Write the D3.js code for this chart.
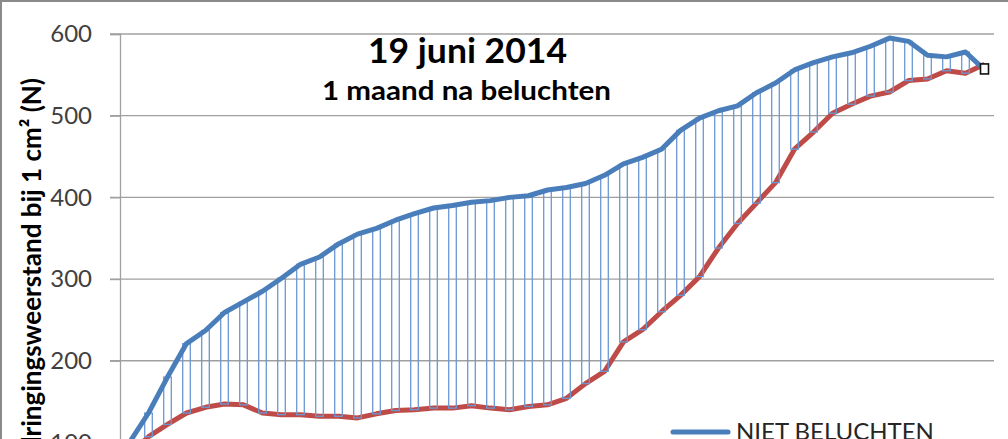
<!DOCTYPE html>
<html>
<head>
<meta charset="utf-8">
<script src="https://cdn.jsdelivr.net/npm/d3@7"></script>
<style>
    body { margin: 0; background: #fff; }
    svg { display: block; font-family: Lato, 'Open Sans', sans-serif; }
</style>
</head>
<body>
<svg id="chart" width="1008" height="439"></svg>
<script>
// meetpunten (46 stuks), x-as labels vallen buiten beeld
const depths = [1, 2, 3, 4, 5, 6, 7, 8, 9, 10, 11, 12, 13, 14, 15, 16, 17, 18, 19, 20, 21, 22, 23,
    24, 25, 26, 27, 28, 29, 30, 31, 32, 33, 34, 35, 36, 37, 38, 39, 40, 41, 42, 43, 44, 45, 46]

const nietBeluchten = [100, 136, 180, 221, 237, 259, 272, 285, 301, 318, 327, 343, 355, 362, 372, 380,
    387, 390, 394, 396, 400, 402, 409, 412, 417, 427, 441, 449, 459, 482, 497, 506, 512, 528, 540, 556,
    565, 572, 577, 585, 595, 591, 574, 572, 578, 556]

const beluchten = [85, 107, 122, 136, 143, 147, 146, 136, 134, 134, 132, 132, 130, 135, 139, 140,
    142, 142, 145, 142, 140, 144, 146, 154, 172, 187, 223, 238, 260, 280, 303, 338, 368, 393, 418, 459,
    480, 503, 514, 524, 529, 543, 545, 555, 552, 563]

const yTicks = [0, 100, 200, 300, 400, 500, 600]

const colors = {
    blue: '#4A7EBB',
    red: '#BE4B48',
    bar: '#6C98D2',
    grid: '#A0A0A0'
}

const svg = d3.select('#chart')

const x = d3.scaleBand()
    .domain(depths)
    .range([120, 994])
    .padding(0)

const y = d3.scaleLinear()
    .domain([0, 600])
    .range([524.1, 34])

const cx = (d) => x(d) + x.bandwidth() / 2

// buitenrand van de grafiek
svg.append('rect')
    .attr('x', 1).attr('y', 1)
    .attr('width', 1200).attr('height', 700)
    .attr('fill', 'none')
    .attr('stroke', '#8A8A8A')
    .attr('stroke-width', 2)

// rasterlijnen
svg.append('g')
    .selectAll('line')
    .data(yTicks)
    .enter().append('line')
    .attr('x1', 110).attr('x2', 994)
    .attr('y1', (d) => y(d)).attr('y2', (d) => y(d))
    .attr('stroke', colors.grid)
    .attr('stroke-width', 1.3)

// y-as
const yAxis = svg.append('g')
    .attr('transform', 'translate(120,0)')
    .call(d3.axisLeft(y).tickValues(yTicks).tickSize(10).tickPadding(18))

yAxis.select('.domain').attr('stroke', colors.grid).attr('stroke-width', 1.3)
yAxis.selectAll('.tick line').attr('stroke', colors.grid).attr('stroke-width', 1.3)
yAxis.selectAll('.tick text')
    .attr('fill', '#404040')
    .attr('font-family', 'Lato, sans-serif')
    .attr('font-size', 24)

svg.append('text')
    .attr('transform', 'translate(41,78) rotate(-90)')
    .attr('text-anchor', 'end')
    .attr('font-weight', 'bold')
    .attr('font-size', 26)
    .attr('fill', '#000')
    .text('Indringingsweerstand bij 1 cm² (N)')

const line = d3.line()
    .x((d, i) => cx(depths[i]))
    .y((d) => y(d))

svg.append('path')
    .datum(beluchten)
    .attr('d', line)
    .attr('fill', 'none')
    .attr('stroke', colors.red)
    .attr('stroke-width', 5)
    .attr('stroke-linejoin', 'round')

// up/down bars tussen beide reeksen
svg.append('g')
    .selectAll('rect')
    .data(depths)
    .enter().append('rect')
    .attr('x', (d) => cx(d) - 3.8)
    .attr('width', 7.6)
    .attr('y', (d, i) => y(Math.max(nietBeluchten[i], beluchten[i])))
    .attr('height', (d, i) => Math.abs(y(nietBeluchten[i]) - y(beluchten[i])))
    .attr('fill', 'none')
    .attr('stroke', colors.bar)
    .attr('stroke-width', 1.3)

svg.append('path')
    .datum(nietBeluchten)
    .attr('d', line)
    .attr('fill', 'none')
    .attr('stroke', colors.blue)
    .attr('stroke-width', 5)
    .attr('stroke-linejoin', 'round')

// geselecteerd punt
const last = depths.length - 1
svg.append('rect')
    .attr('x', cx(depths[last]) - 4)
    .attr('y', y(nietBeluchten[last]) - 6)
    .attr('width', 8).attr('height', 10)
    .attr('fill', '#fff')
    .attr('stroke', '#111')
    .attr('stroke-width', 1.6)

// titels
svg.append('text')
    .attr('x', 467.5).attr('y', 63)
    .attr('text-anchor', 'middle')
    .attr('font-weight', 'bold')
    .attr('font-size', 35)
    .attr('textLength', 199)
    .attr('lengthAdjust', 'spacingAndGlyphs')
    .text('19 juni 2014')

svg.append('text')
    .attr('x', 466.5).attr('y', 100)
    .attr('text-anchor', 'middle')
    .attr('font-weight', 'bold')
    .attr('font-size', 27)
    .attr('textLength', 289)
    .attr('lengthAdjust', 'spacingAndGlyphs')
    .text('1 maand na beluchten')

// legenda
svg.append('line')
    .attr('x1', 673).attr('x2', 728)
    .attr('y1', 432).attr('y2', 432)
    .attr('stroke', colors.blue)
    .attr('stroke-width', 5)
    .attr('stroke-linecap', 'round')

svg.append('text')
    .attr('x', 736).attr('y', 440)
    .attr('font-size', 24)
    .attr('fill', '#262626')
    .text('NIET BELUCHTEN')
</script>
</body>
</html>
